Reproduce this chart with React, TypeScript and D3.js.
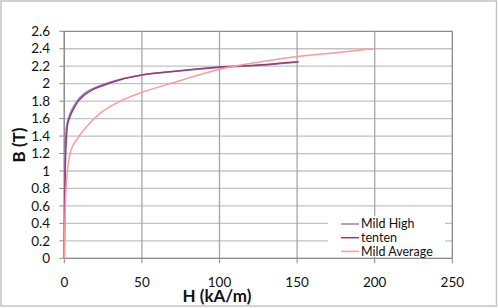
import * as d3 from "d3";
import React from "react";

// values
const mildHighH = [0, 0.2, 0.4, 0.8, 1.2, 2, 3, 4, 6, 9, 13, 18, 25, 35, 50, 70, 100, 130, 150];
const mildHighB = [0, 0.7, 1.1, 1.33, 1.47, 1.56, 1.62, 1.67, 1.74, 1.82, 1.89, 1.94, 1.99, 2.045, 2.1, 2.14, 2.185, 2.215, 2.245];

const tentenH = [0, 0.3, 0.6, 1.0, 1.5, 2, 3, 4, 6, 9, 13, 18, 25, 35, 50, 70, 100, 130, 151];
const tentenB = [0, 0.6, 1.0, 1.25, 1.42, 1.52, 1.59, 1.64, 1.71, 1.8, 1.87, 1.93, 1.98, 2.04, 2.1, 2.14, 2.19, 2.22, 2.25];

const mildAvgH = [0, 0.5, 1, 2, 3.7, 5, 8, 14, 23, 36, 50, 70, 100, 130, 150, 175, 199];
const mildAvgB = [0, 0.5, 0.75, 1.0, 1.2, 1.27, 1.36, 1.5, 1.66, 1.8, 1.9, 2.01, 2.165, 2.26, 2.31, 2.355, 2.4];

const xTicks = [0, 50, 100, 150, 200, 250];
const yTicks = [0, 0.2, 0.4, 0.6, 0.8, 1, 1.2, 1.4, 1.6, 1.8, 2, 2.2, 2.4, 2.6];

const seriesNames = ["Mild High", "tenten", "Mild Average"];
const seriesColors = ["#8686cc", "#9e3a72", "#ff9a9a"];

export default function App() {
    const width = 498;
    const height = 308;
    const left = 64.3;
    const right = 452.3;
    const top = 31.3;
    const bottom = 258.3;

    const x = d3.scaleLinear().domain([0, 250]).range([left, right]);
    const y = d3.scaleLinear().domain([0, 2.6]).range([bottom, top]);

    const line = d3.line<[number, number]>()
        .x(d => x(d[0]))
        .y(d => y(d[1]))
        .curve(d3.curveMonotoneX);

    const series = [
        d3.zip(mildHighH, mildHighB) as [number, number][],
        d3.zip(tentenH, tentenB) as [number, number][],
        d3.zip(mildAvgH, mildAvgB) as [number, number][]
    ];

    const font = "Lato, 'Open Sans', sans-serif";

    return (
        <svg
            width={width}
            height={height}
            style={{position: "absolute", left: 0, top: 0, background: "#fff"}}
        >
            <rect x={1} y={1} width={width - 2.5} height={height - 3} fill="#fff" stroke="#c4c4c4" strokeWidth={1.5}/>

            {yTicks.map(t => (
                <line key={`hy${t}`} x1={left} x2={right} y1={y(t)} y2={y(t)}
                      stroke={t === 2.6 ? "#8c8c8c" : "#c2c2c2"} strokeWidth={1.3}/>
            ))}
            {xTicks.map(t => (
                <line key={`vx${t}`} x1={x(t)} x2={x(t)} y1={top} y2={bottom}
                      stroke={t === 250 ? "#8c8c8c" : "#a6a6a6"} strokeWidth={1.3}/>
            ))}

            <line x1={left} x2={left} y1={top} y2={bottom} stroke="#8c8c8c" strokeWidth={1.3}/>
            <line x1={left} x2={right} y1={bottom} y2={bottom} stroke="#8c8c8c" strokeWidth={1.3}/>

            {yTicks.map(t => (
                <g key={`ty${t}`}>
                    <line x1={left - 5} x2={left} y1={y(t)} y2={y(t)} stroke="#8c8c8c"/>
                    <text x={50} y={y(t)} dy="0.35em" textAnchor="end" fontFamily={font} fontSize={13.5}
                          fill="#111">{t}</text>
                </g>
            ))}
            {xTicks.map(t => (
                <g key={`tx${t}`}>
                    <line x1={x(t)} x2={x(t)} y1={bottom} y2={bottom + 5} stroke="#8c8c8c"/>
                    <text x={x(t)} y={287} textAnchor="middle" fontFamily={font} fontSize={13.5}
                          fill="#111">{t}</text>
                </g>
            ))}

            {series.map((pts, i) => (
                <path key={seriesNames[i]} d={line(pts) ?? ""} fill="none"
                      stroke={seriesColors[i]} strokeWidth={1.5}/>
            ))}

            <rect x={328} y={216} width={117} height={41} fill="#fff"/>
            {seriesNames.map((name, i) => {
                const ly = 224 + i * 13.7;
                return (
                    <g key={`lg${name}`}>
                        <line x1={341} x2={359} y1={ly} y2={ly} stroke={seriesColors[i]} strokeWidth={1.5}/>
                        <text x={361} y={ly} dy="0.35em" fontFamily={font} fontSize={12.5} fill="#111">{name}</text>
                    </g>
                );
            })}

            <text x={217} y={302} textAnchor="middle" fontFamily={font} fontSize={17}
                  fontWeight="bold" fill="#111">H (kA/m)</text>
            <text transform={`translate(25, 145) rotate(-90)`} textAnchor="middle" fontFamily={font}
                  fontSize={17} fontWeight="bold" fill="#111">B (T)</text>
        </svg>
    );
}
